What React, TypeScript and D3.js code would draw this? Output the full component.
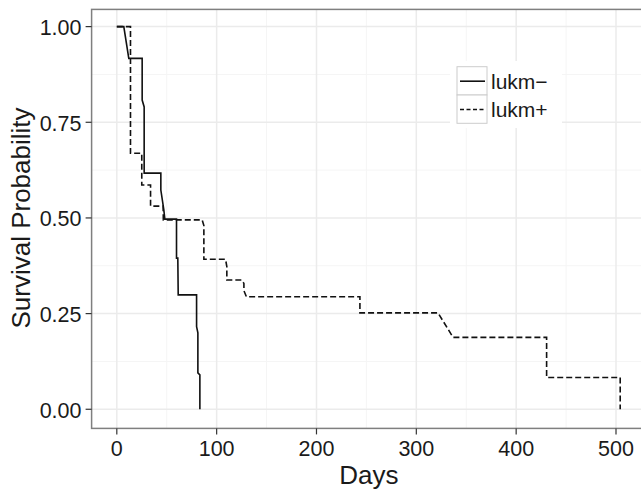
import React from 'react';
import * as d3 from 'd3';

// Kaplan-Meier curves (days, survival)
const minusDays = [0, 7, 12, 25.4, 25.4, 27.4, 27.4, 44.1, 44.1, 47.1, 48.1, 59.1, 59.8, 59.8, 61.1, 61.5, 79.9, 79.9, 81.2, 81.2, 83.2, 83.2];
const minusSurv = [1, 1, 0.917, 0.917, 0.808, 0.79, 0.617, 0.617, 0.573, 0.521, 0.497, 0.497, 0.497, 0.395, 0.395, 0.299, 0.299, 0.216, 0.2, 0.095, 0.09, 0];

const plusDays = [0, 13.7, 13.7, 25, 25, 33.8, 33.8, 46.4, 46.6, 85.5, 87.2, 87.2, 108.9, 110.2, 110.2, 124.9, 127.3, 127.3, 129.8, 243.5, 243.5, 321.7, 336.8, 430.5, 430.5, 504.2, 504.2];
const plusSurv = [1, 1, 0.669, 0.669, 0.586, 0.586, 0.531, 0.531, 0.495, 0.495, 0.48, 0.392, 0.392, 0.373, 0.338, 0.338, 0.329, 0.31, 0.294, 0.294, 0.252, 0.252, 0.188, 0.188, 0.083, 0.083, 0];

const xTicks = [0, 100, 200, 300, 400, 500];
const xMinor = [50, 150, 250, 350, 450];
const yTicks = [0, 0.25, 0.5, 0.75, 1];
const yMinor = [0.125, 0.375, 0.625, 0.875];
const legendLabels = ['lukm\u2212', 'lukm+'];

export default function App() {
  const width = 641;
  const height = 489;
  const font = 'Arial, "Liberation Sans", sans-serif';

  const x = d3.scaleLinear().domain([-25.25, 530.25]).range([91.6, 646.2]);
  const y = d3.scaleLinear().domain([-0.05, 1.045]).range([428.4, 9.4]);

  const left = x(-25.25);
  const right = x(530.25);
  const top = y(1.045);
  const bottom = y(-0.05);

  const line = d3.line<[number, number]>()
    .x(d => x(d[0]))
    .y(d => y(d[1]));

  const minus = minusDays.map((d, i) => [d, minusSurv[i]] as [number, number]);
  const plus = plusDays.map((d, i) => [d, plusSurv[i]] as [number, number]);

  const fmt = d3.format('.2f');

  return (
    <svg width={width} height={height} style={{ position: 'absolute', left: 0, top: 0, background: '#fff' }}>
      <rect x={left} y={top} width={right - left} height={bottom - top} fill="#fff" />
      <g>
        {xMinor.map(v => (
          <line key={'xm' + v} x1={x(v)} x2={x(v)} y1={top} y2={bottom} stroke="#f5f5f5" strokeWidth={1} />
        ))}
        {yMinor.map(v => (
          <line key={'ym' + v} x1={left} x2={right} y1={y(v)} y2={y(v)} stroke="#f5f5f5" strokeWidth={1} />
        ))}
        {xTicks.map(v => (
          <line key={'xg' + v} x1={x(v)} x2={x(v)} y1={top} y2={bottom} stroke="#ebebeb" strokeWidth={1.5} />
        ))}
        {yTicks.map(v => (
          <line key={'yg' + v} x1={left} x2={right} y1={y(v)} y2={y(v)} stroke="#ebebeb" strokeWidth={1.5} />
        ))}
      </g>

      <path d={line(plus) || ''} fill="none" stroke="#111" strokeWidth={1.6} strokeDasharray="6,3" />
      <path d={line(minus) || ''} fill="none" stroke="#111" strokeWidth={1.6} />

      {/* legend */}
      <g>
        <rect x={450} y={61} width={112} height={67} fill="#fff" />
        {legendLabels.map((lab, i) => {
          const ky = 66.7 + i * 28.3;
          return (
            <g key={lab}>
              <rect x={457} y={ky} width={30} height={28.3} fill="#fff" stroke="#cccccc" strokeWidth={1} />
              <line x1={460} x2={485} y1={ky + 14.5} y2={ky + 14.5} stroke="#111" strokeWidth={1.6}
                strokeDasharray={i === 1 ? '4,2.5' : undefined} />
              <text x={491} y={ky + 14.5} dy="0.36em" fontFamily={font} fontSize={21} fill="#1a1a1a">{lab}</text>
            </g>
          );
        })}
      </g>

      <rect x={left} y={top} width={right - left} height={bottom - top} fill="none" stroke="#7f7f7f" strokeWidth={1.5} />

      {/* y axis */}
      <g>
        {yTicks.map(v => (
          <g key={'yt' + v}>
            <line x1={left - 6} x2={left} y1={y(v)} y2={y(v)} stroke="#333" strokeWidth={1.2} />
            <text x={81.5} y={y(v) + 8.5} textAnchor="end" fontFamily={font} fontSize={21.5} fill="#1a1a1a">{fmt(v)}</text>
          </g>
        ))}
        <text transform={`translate(30,218) rotate(-90)`} textAnchor="middle" fontFamily={font} fontSize={26} fill="#1a1a1a">
          Survival Probability
        </text>
      </g>

      {/* x axis */}
      <g>
        {xTicks.map(v => (
          <g key={'xt' + v}>
            <line x1={x(v)} x2={x(v)} y1={bottom} y2={bottom + 6} stroke="#333" strokeWidth={1.2} />
            <text x={x(v)} y={456} textAnchor="middle" fontFamily={font} fontSize={21.5} fill="#1a1a1a">{v}</text>
          </g>
        ))}
        <text x={(left + right) / 2} y={484} textAnchor="middle" fontFamily={font} fontSize={26} fill="#1a1a1a">Days</text>
      </g>
    </svg>
  );
}
